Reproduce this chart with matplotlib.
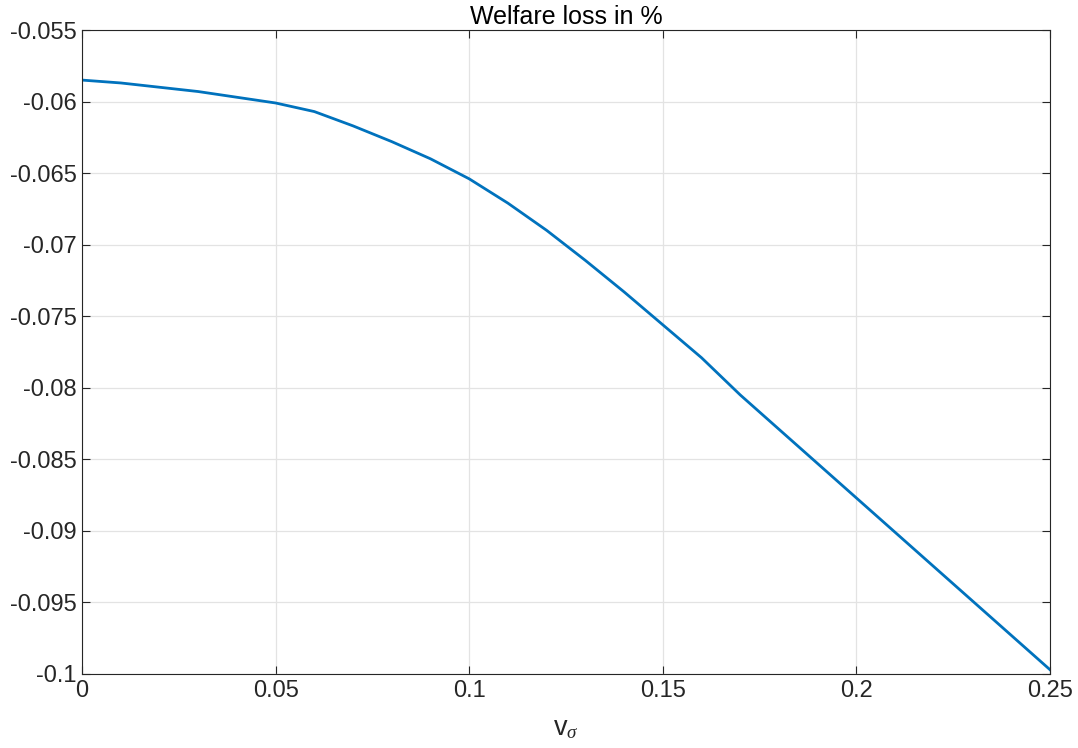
import matplotlib
matplotlib.use("Agg")
import matplotlib.pyplot as plt
import numpy as np

plt.rcParams['font.family'] = ['Liberation Sans', 'DejaVu Sans']
plt.rcParams['mathtext.fontset'] = 'custom'
plt.rcParams['mathtext.rm'] = 'Liberation Sans'
plt.rcParams['mathtext.it'] = 'Liberation Serif:italic'

v_sigma = [0.00, 0.01, 0.02, 0.03, 0.04, 0.05, 0.06, 0.07, 0.08, 0.09,
           0.10, 0.11, 0.12, 0.13, 0.14, 0.15, 0.16, 0.17, 0.18, 0.19,
           0.20, 0.21, 0.22, 0.23, 0.24, 0.25]
welfare_loss = [-0.0585, -0.0587, -0.0590, -0.0593, -0.0597, -0.0601, -0.0607,
                -0.0617, -0.0628, -0.0640, -0.0654, -0.0671, -0.0690, -0.0711,
                -0.0733, -0.0756, -0.0779, -0.0805, -0.0829, -0.0853, -0.0877,
                -0.0901, -0.0925, -0.0949, -0.0973, -0.0997]

xticks = [0, 0.05, 0.1, 0.15, 0.2, 0.25]
xticklabels = ['0', '0.05', '0.1', '0.15', '0.2', '0.25']
yticks = [-0.055, -0.06, -0.065, -0.07, -0.075, -0.08, -0.085, -0.09, -0.095, -0.1]
yticklabels = ['-0.055', '-0.06', '-0.065', '-0.07', '-0.075', '-0.08', '-0.085',
               '-0.09', '-0.095', '-0.1']

fig = plt.figure(figsize=(10.78, 7.48), dpi=100)
ax = fig.add_axes([82/1078, 74/748, (1050-82)/1078, (674-30)/748])

ax.plot(v_sigma, welfare_loss, color='#0072BD', linewidth=2.0)

ax.set_xlim(0, 0.25)
ax.set_ylim(-0.1, -0.055)
ax.set_xticks(xticks)
ax.set_xticklabels(xticklabels)
ax.set_yticks(yticks)
ax.set_yticklabels(yticklabels)

ax.grid(True, color='#e3e3e3', linewidth=0.9)
ax.set_axisbelow(True)
for s in ax.spines.values():
    s.set_color('#262626')
    s.set_linewidth(0.8)
ax.tick_params(direction='in', length=6, width=0.8, colors='#262626',
               labelsize=17, top=True, right=True, labelcolor='#262626', pad=4)

ax.set_title('Welfare loss in %', fontsize=18, color='black', pad=4)
ax.set_xlabel(r'v$_{\sigma}$', fontsize=19.5, color='#262626', labelpad=10)

fig.savefig('out.png', dpi=100)
